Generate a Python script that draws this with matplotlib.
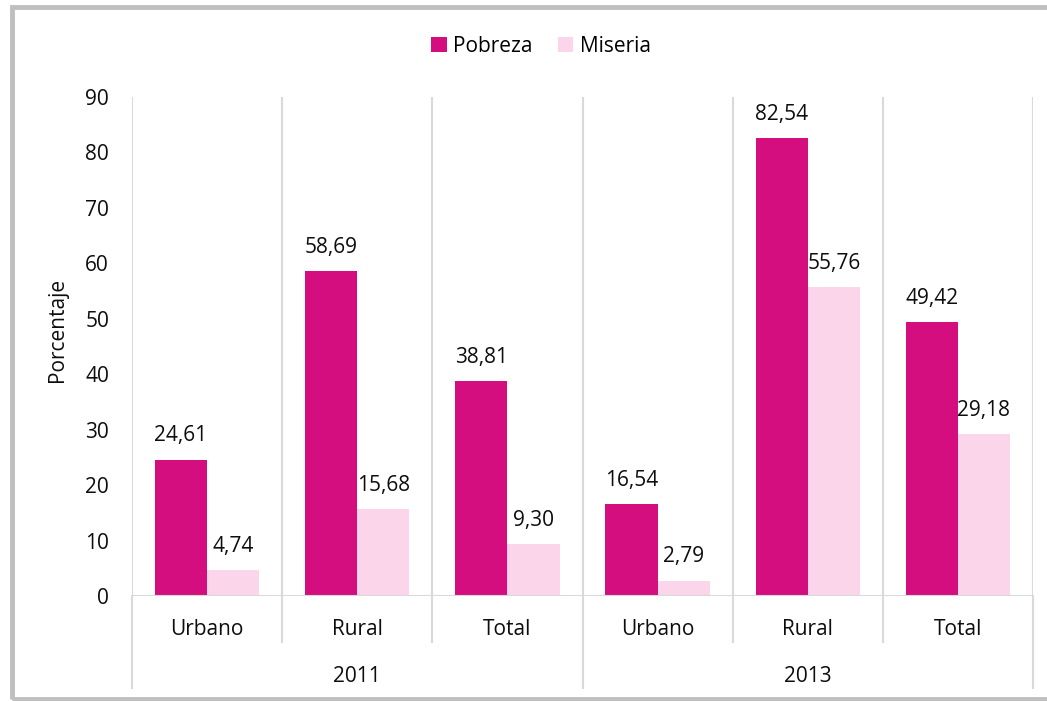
import matplotlib
matplotlib.use("Agg")
import matplotlib.pyplot as plt
from matplotlib.patches import Rectangle

plt.rcParams['font.family'] = ['Open Sans', 'DejaVu Sans']

categories = ["Urbano", "Rural", "Total", "Urbano", "Rural", "Total"]
years = ["2011", "2013"]
pobreza = [24.61, 58.69, 38.81, 16.54, 82.54, 49.42]
miseria = [4.74, 15.68, 9.30, 2.79, 55.76, 29.18]
labels_pobreza = ["24,61", "58,69", "38,81", "16,54", "82,54", "49,42"]
labels_miseria = ["4,74", "15,68", "9,30", "2,79", "55,76", "29,18"]
yticks = [0, 10, 20, 30, 40, 50, 60, 70, 80, 90]

c_pob = "#D40E7E"
c_mis = "#FBD5EA"
grid_c = "#D9D9D9"
txt_c = "#0d0d0d"

W, H = 1047, 701
fig = plt.figure(figsize=(W / 100, H / 100), dpi=100)
ax = fig.add_axes([132 / W, (H - 596) / H, (1033 - 132) / W, (596 - 97) / H])

n = len(categories)
x = list(range(n))
bw = 0.347
b1 = ax.bar([i - bw / 2 for i in x], pobreza, width=bw, color=c_pob, label="Pobreza", zorder=3)
b2 = ax.bar([i + bw / 2 for i in x], miseria, width=bw, color=c_mis, label="Miseria", zorder=3)

fs = 15
for bars, labs in ((b1, labels_pobreza), (b2, labels_miseria)):
    for rect, lab in zip(bars, labs):
        ax.annotate(lab, (rect.get_x() + rect.get_width() / 2, rect.get_height()),
                    xytext=(0, 13), textcoords="offset points", ha="center", va="baseline",
                    fontsize=fs, color=txt_c)

ax.set_xlim(-0.5, n - 0.5)
ax.set_ylim(0, 90)
ax.set_yticks(yticks)
ax.set_yticklabels([str(t) for t in yticks], fontsize=fs, color=txt_c)
ax.tick_params(axis='y', length=0, pad=16.5)
ax.set_xticks([])
for s in ax.spines.values():
    s.set_visible(False)

# vertical gridlines at category boundaries
bounds = [i - 0.5 for i in range(n + 1)]
ax.vlines(bounds, 0, 90, colors=grid_c, linewidth=1.5, zorder=1)
# x axis line
ax.axhline(0, color=grid_c, linewidth=1.5, zorder=4)

trans = ax.get_xaxis_transform()
for i, b in enumerate(bounds):
    low = -0.184 if i % 3 == 0 else -0.092
    ax.plot([b, b], [0, low], transform=trans, color=grid_c, linewidth=1.5, clip_on=False)

for i, c in enumerate(categories):
    ax.text(i, -0.068, c, transform=trans, ha="center", va="center", fontsize=fs, color=txt_c)
for j, yr in enumerate(years):
    ax.text(3 * j + 1, -0.161, yr, transform=trans, ha="center", va="center", fontsize=fs, color=txt_c)

fig.text(57 / W, 1 - 330 / H, "Porcentaje", rotation=90, ha="center", va="center", fontsize=fs, color=txt_c)

fig.legend(handles=[b1, b2], labels=["Pobreza", "Miseria"], loc="center",
           bbox_to_anchor=(541 / W, 1 - 46.5 / H), ncol=2, frameon=False, fontsize=fs,
           handlelength=0.75, handleheight=0.75, handletextpad=0.3, columnspacing=1.2)

# figure border
fig.patches.append(Rectangle((12 / W, 2 / H), 1.1, 1 - 8.5 / H, transform=fig.transFigure,
                             fill=False, edgecolor="#BFBFBF", linewidth=3.5))

fig.savefig("out.png", dpi=100)
